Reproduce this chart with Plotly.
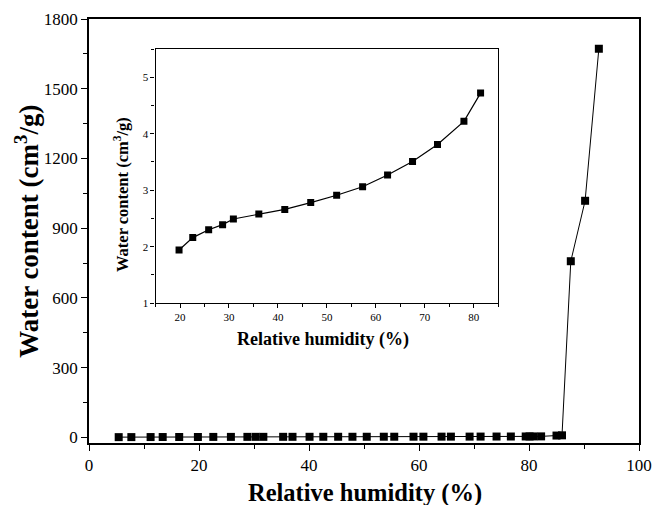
import plotly.graph_objects as go

# Main curve: relative humidity (%) vs water content (cm3/g)
main_rh = [5.4, 7.7, 11.2, 13.4, 16.4, 19.8, 22.6, 25.8, 28.8, 30.3, 31.7, 35.3, 37.0,
           40.1, 42.6, 45.3, 47.9, 50.5, 53.6, 55.5, 59.0, 60.8, 64.1, 65.8, 69.2, 71.2,
           74.1, 76.7, 79.4, 80.1, 80.8, 82.2, 85.0, 86.0, 87.6, 90.2, 92.7]
main_wc = [1.2, 1.4, 1.6, 1.7, 1.8, 1.9, 2.2, 2.3, 2.4, 2.5, 2.5, 2.6, 2.6,
           2.7, 2.7, 2.8, 2.8, 2.9, 3.0, 3.0, 3.1, 3.2, 3.3, 3.4, 3.5, 3.6,
           3.8, 3.9, 4.1, 4.2, 4.3, 4.5, 8.0, 9.0, 758, 1018, 1672]

# Inset curve
inset_rh = [19.8, 22.6, 25.85, 28.7, 30.9, 36.1, 41.4, 46.7, 52.0, 57.3, 62.4, 67.5, 72.6, 78.0, 81.4]
inset_wc = [1.94, 2.16, 2.30, 2.39, 2.49, 2.58, 2.66, 2.78, 2.91, 3.06, 3.27, 3.51, 3.81, 4.22, 4.72]

main_xticks = [0, 20, 40, 60, 80, 100]
main_yticks = [0, 300, 600, 900, 1200, 1500, 1800]
inset_xticks = [20, 30, 40, 50, 60, 70, 80]
inset_yticks = [1, 2, 3, 4, 5]

x_title = "Relative humidity (%)"
y_title = "Water content (cm<sup>3</sup>/g)"

FONT = "Liberation Serif"

fig = go.Figure()
fig.add_trace(go.Scatter(x=main_rh, y=main_wc, mode="lines+markers",
                         line=dict(color="black", width=1),
                         marker=dict(symbol="square", size=8, color="black"),
                         xaxis="x", yaxis="y", showlegend=False))
fig.add_trace(go.Scatter(x=inset_rh, y=inset_wc, mode="lines+markers",
                         line=dict(color="black", width=1.2),
                         marker=dict(symbol="square", size=7, color="black"),
                         xaxis="x2", yaxis="y2", showlegend=False))

axis_common = dict(showgrid=False, zeroline=False, showline=True, linecolor="black",
                   mirror=True, ticks="outside", tickcolor="black", automargin=False)

fig.update_layout(
    width=654, height=505,
    margin=dict(l=89, r=15, t=19, b=62),
    plot_bgcolor="white", paper_bgcolor="white",
    font=dict(family=FONT, color="black"),
    xaxis=dict(**axis_common, range=[0, 100], tickvals=main_xticks, ticklen=6, linewidth=1.5,
               tickwidth=1.2, tickfont=dict(size=17),
               minor=dict(dtick=10, ticks="outside", ticklen=4, tickcolor="black")),
    yaxis=dict(**axis_common, range=[-24, 1800], tickvals=main_yticks, ticklen=6, linewidth=1.5,
               tickwidth=1.2, tickfont=dict(size=17),
               minor=dict(dtick=150, ticks="outside", ticklen=4, tickcolor="black")),
    xaxis2=dict(**axis_common, domain=[0.121, 0.744], anchor="y2", range=[15, 85],
                tickvals=inset_xticks, ticklen=4, linewidth=1.2, tickfont=dict(size=11),
                minor=dict(dtick=5, ticks="outside", ticklen=3, tickcolor="black")),
    yaxis2=dict(**axis_common, domain=[0.330, 0.929], anchor="x2", range=[1, 5.5],
                tickvals=inset_yticks, ticklen=4, linewidth=1.2, tickfont=dict(size=11),
                minor=dict(dtick=0.5, ticks="outside", ticklen=3, tickcolor="black")),
)

ann = dict(xref="paper", yref="paper", showarrow=False, xanchor="center", yanchor="middle")
fig.add_annotation(**ann, x=0.502, y=-0.118, text=f"<b>{x_title}</b>", font=dict(size=24.5))
fig.add_annotation(**ann, x=-0.113, y=0.5, text=f"<b>{y_title}</b>", font=dict(size=27), textangle=-90)
fig.add_annotation(**ann, x=0.425, y=0.243, text=f"<b>{x_title}</b>", font=dict(size=18))
fig.add_annotation(**ann, x=0.058, y=0.587, text=f"<b>{y_title}</b>", font=dict(size=16.5), textangle=-90)

# remove the default 8px page margin so the figure sits at the window's top-left corner
fig.write_html("out.html", config={"displayModeBar": False},
               post_script="document.body.style.margin='0';document.body.style.overflow='hidden';")
